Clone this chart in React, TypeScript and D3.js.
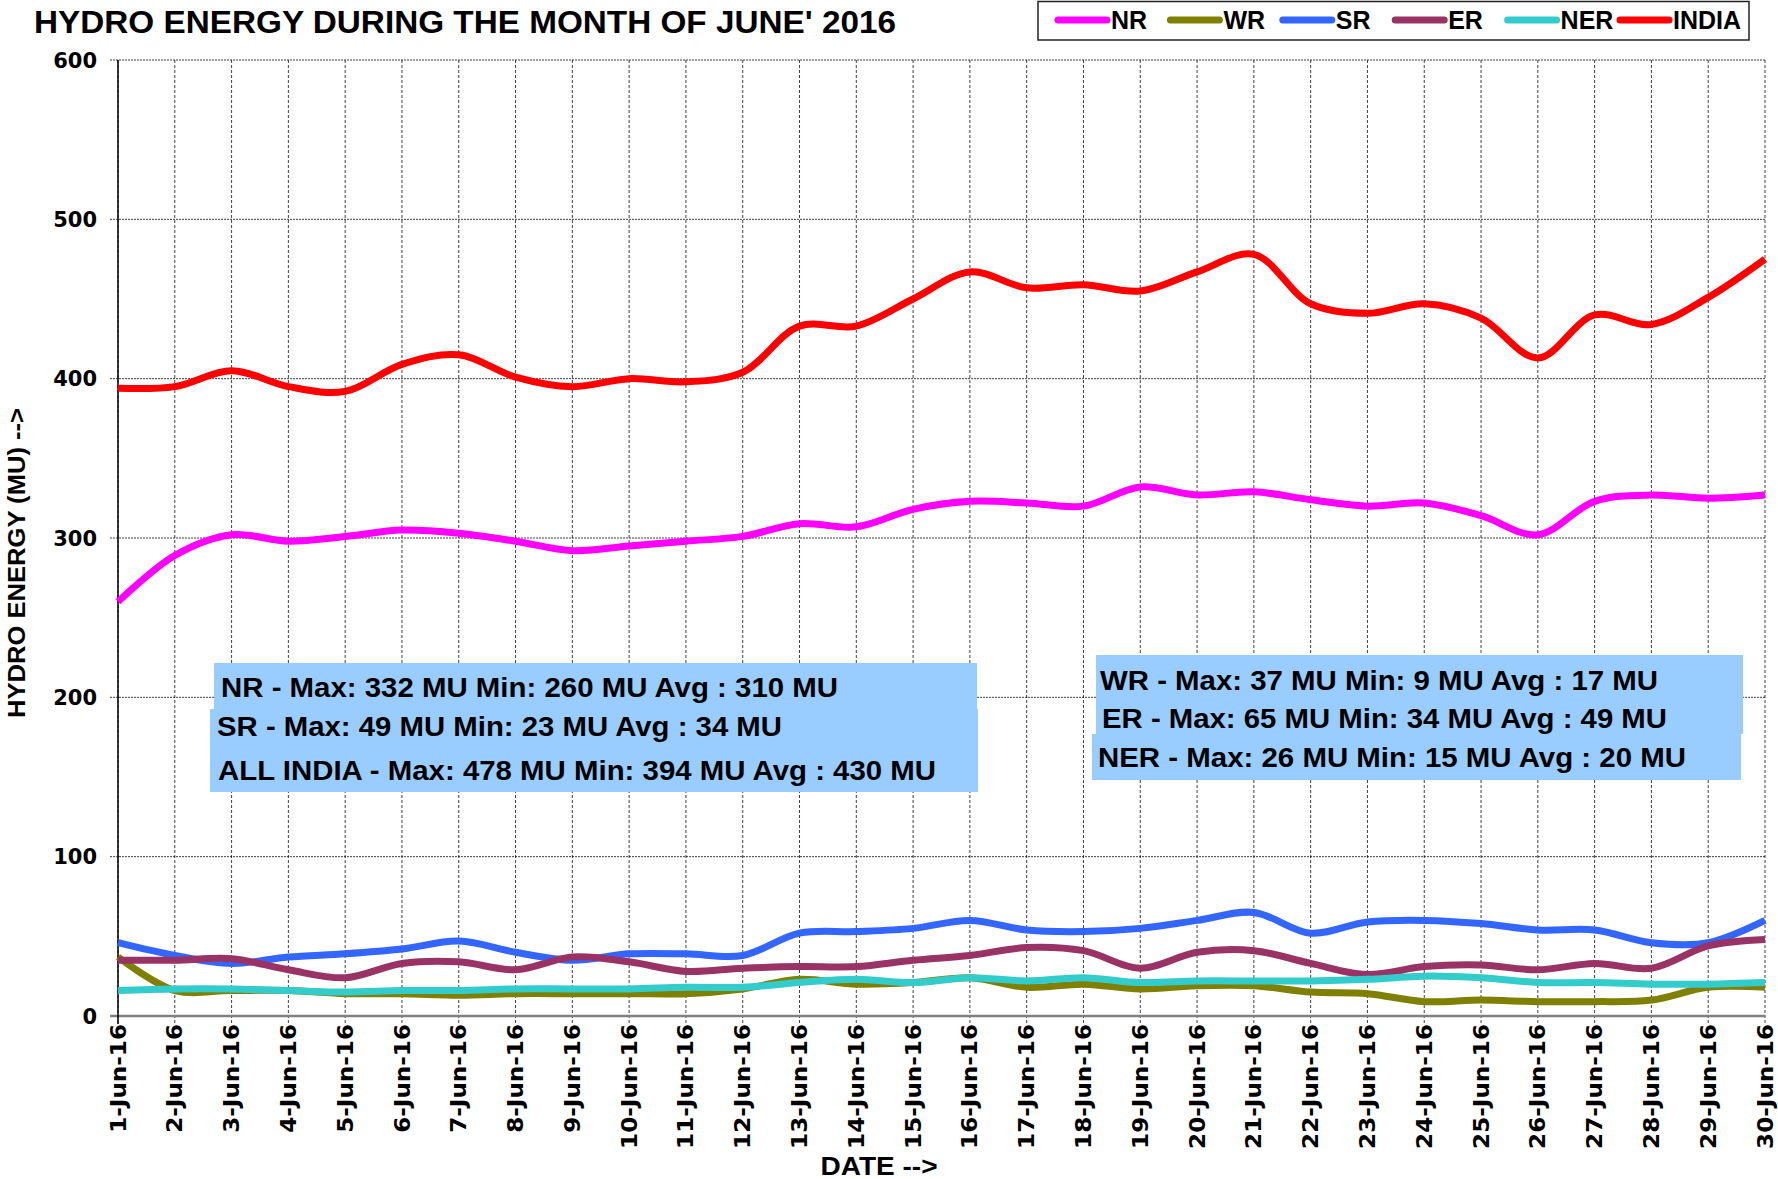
import React from 'react';
import * as d3 from 'd3';

const days = d3.range(1, 31).map(d => `${d}-Jun-16`);
const yTicks = [0, 100, 200, 300, 400, 500, 600];

const nr = [260, 289, 302, 298, 301, 305, 303, 298, 292, 295, 298, 301, 309, 307, 318, 323, 322, 320, 332, 327, 329, 324, 320, 322, 314, 302, 323, 327, 325, 327];
const wr = [37, 16, 16, 16, 14, 14, 13, 14, 14, 14, 14, 17, 23, 20, 21, 24, 18, 20, 17, 19, 19, 15, 14, 9, 10, 9, 9, 10, 18, 18];
const sr = [46, 38, 33, 37, 39, 42, 47, 40, 35, 39, 39, 38, 52, 53, 55, 60, 54, 53, 55, 60, 65, 52, 59, 60, 58, 54, 54, 46, 46, 60];
const er = [35, 35, 36, 29, 24, 33, 34, 29, 37, 34, 28, 30, 31, 31, 35, 38, 43, 41, 30, 40, 41, 33, 26, 31, 32, 29, 33, 30, 44, 48];
const ner = [16, 17, 17, 16, 15, 16, 16, 17, 17, 17, 18, 18, 21, 23, 21, 24, 22, 24, 21, 22, 22, 22, 23, 25, 24, 21, 21, 20, 20, 21];
const india = [394, 395, 405, 395, 392, 409, 415, 401, 395, 400, 398, 404, 433, 433, 450, 467, 457, 459, 455, 467, 478, 447, 441, 447, 438, 413, 440, 434, 451, 475];

const series = [
  { name: 'NR', color: '#ff00ff', values: nr },
  { name: 'WR', color: '#808000', values: wr },
  { name: 'SR', color: '#3366ff', values: sr },
  { name: 'ER', color: '#993366', values: er },
  { name: 'NER', color: '#33cccc', values: ner },
  { name: 'INDIA', color: '#ff0000', values: india },
];

const leftNotes = [
  'NR - Max: 332 MU Min: 260 MU Avg : 310 MU',
  'SR - Max: 49 MU Min: 23 MU Avg : 34 MU',
  'ALL INDIA - Max: 478 MU Min: 394 MU Avg : 430 MU',
];
const rightNotes = [
  'WR - Max: 37 MU Min: 9 MU Avg : 17 MU',
  'ER - Max: 65 MU Min: 34 MU Avg : 49 MU',
  'NER - Max: 26 MU Min: 15 MU Avg : 20 MU',
];

const W = 1778, H = 1179;
const m = { left: 118, right: 1765, top: 60, bottom: 1016 };
const narrow = '"Liberation Sans Narrow", "Liberation Sans", Arial, sans-serif';
const wide = '"DejaVu Sans", Verdana, sans-serif';

export default function App() {
  const x = d3.scalePoint().domain(days).range([m.left, m.right]);
  const y = d3.scaleLinear().domain([0, 600]).range([m.bottom, m.top]);
  const line = d3.line<number>()
    .x((_, i) => x(days[i]) as number)
    .y(d => y(d))
    .curve(d3.curveCatmullRom.alpha(0.5));
  const legendX = d3.scalePoint().domain(series.map(s => s.name)).range([1055, 1617]);

  return (
    <svg width={W} height={H} style={{ position: 'absolute', left: 0, top: 0, background: '#fff' }}>
      <rect width={W} height={H} fill="#fff" />
      <text x={34} y={33} fontFamily={narrow} fontWeight="bold" fontSize={32}
        textLength={862} lengthAdjust="spacingAndGlyphs">HYDRO ENERGY DURING THE MONTH OF JUNE' 2016</text>

      {/* grid */}
      {yTicks.map(t => (
        <line key={'h' + t} x1={110} x2={m.right} y1={y(t)} y2={y(t)}
          stroke="#000" strokeWidth={1} strokeDasharray="2,1" opacity={t === 0 ? 0 : 0.75} />
      ))}
      {days.map(d => (
        <line key={'v' + d} x1={x(d)} x2={x(d)} y1={m.top} y2={m.bottom + 8}
          stroke="#000" strokeWidth={1} strokeDasharray="3,2" opacity={0.75} />
      ))}
      <line x1={110} x2={m.right} y1={m.bottom} y2={m.bottom} stroke="#808080" strokeWidth={2.5} />
      <line x1={m.left} x2={m.left} y1={m.top} y2={m.bottom + 8} stroke="#000" strokeWidth={1.5} />

      {/* y tick labels */}
      {yTicks.map(t => (
        <text key={'yl' + t} x={97} y={y(t)} dy="0.36em" textAnchor="end"
          fontFamily={wide} fontWeight="bold" fontSize={21}>{t}</text>
      ))}
      {/* x tick labels */}
      {days.map(d => (
        <text key={'xl' + d} transform={`translate(${x(d)},1024) rotate(-90) scale(1.1,1)`} textAnchor="end" dy="0.36em"
          fontFamily={wide} fontWeight="bold" fontSize={21}>{d}</text>
      ))}

      <text transform="translate(25,563) rotate(-90)" textAnchor="middle" fontFamily={narrow} fontWeight="bold"
        fontSize={24} textLength={310} lengthAdjust="spacingAndGlyphs">HYDRO ENERGY (MU) --&gt;</text>
      <text x={879} y={1175} textAnchor="middle" fontFamily={narrow} fontWeight="bold"
        fontSize={25} textLength={117} lengthAdjust="spacingAndGlyphs">DATE --&gt;</text>

      {/* lines */}
      {series.map(s => (
        <path key={s.name} d={line(s.values) as string} fill="none" stroke={s.color} strokeWidth={7} />
      ))}

      {/* annotation boxes */}
      <rect x={214} y={663} width={763} height={46} fill="#99ccff" />
      <rect x={210} y={709} width={768} height={83} fill="#99ccff" />
      <rect x={1096} y={655} width={647} height={79} fill="#99ccff" />
      <rect x={1092} y={734} width={649} height={46} fill="#99ccff" />
      {leftNotes.map((t, i) => (
        <text key={t} x={[221, 217, 218][i]} y={[697, 736, 780][i]} fontFamily={narrow} fontWeight="bold"
          fontSize={27} textLength={[617, 565, 718][i]} lengthAdjust="spacingAndGlyphs">{t}</text>
      ))}
      {rightNotes.map((t, i) => (
        <text key={t} x={[1100, 1102, 1098][i]} y={[690, 728, 767][i]} fontFamily={narrow} fontWeight="bold"
          fontSize={27} textLength={[558, 565, 588][i]} lengthAdjust="spacingAndGlyphs">{t}</text>
      ))}

      {/* legend */}
      <rect x={1038} y={1.5} width={711} height={38.5} fill="#fff" stroke="#222" strokeWidth={1.5} />
      {series.map(s => {
        const lx = legendX(s.name) as number;
        return (
          <g key={'lg' + s.name}>
            <line x1={lx + 3} x2={lx + 52} y1={20} y2={20} stroke={s.color} strokeWidth={7} strokeLinecap="round" />
            <text x={lx + 56} y={29} fontFamily={narrow} fontWeight="bold" fontSize={25}>{s.name}</text>
          </g>
        );
      })}
    </svg>
  );
}
